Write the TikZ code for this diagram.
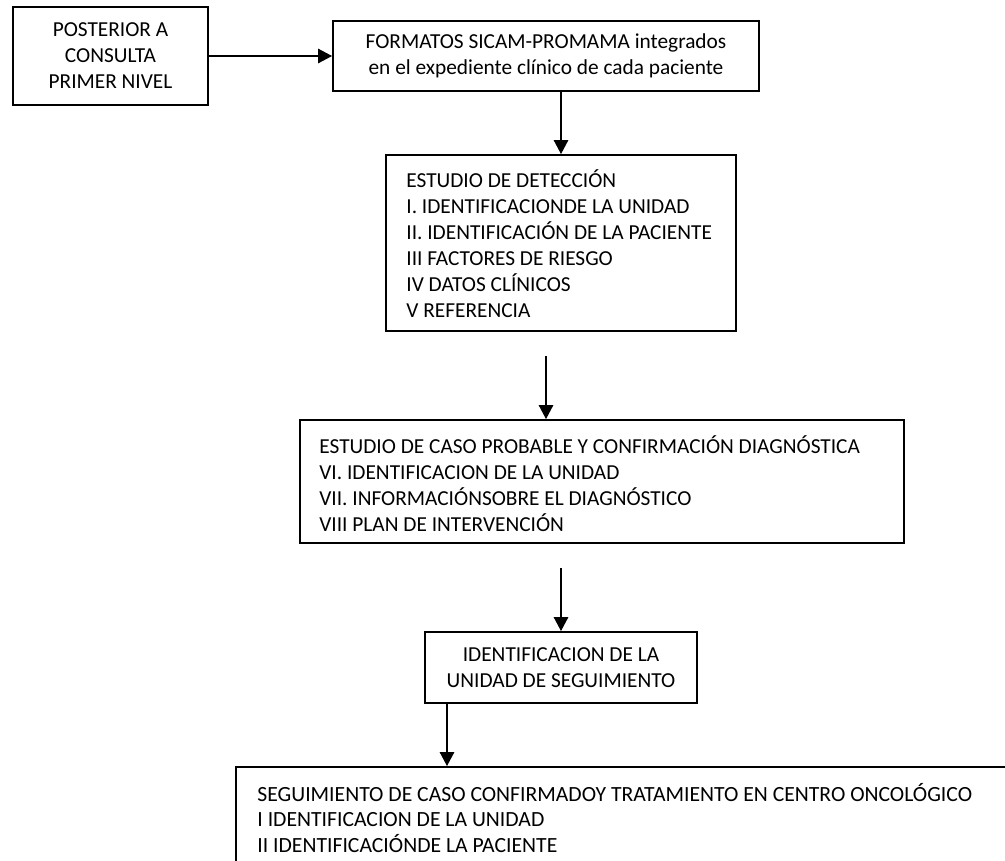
\documentclass[tikz,border=0pt]{standalone}
\usepackage{fontspec}
\setmainfont{Carlito}
\usetikzlibrary{arrows.meta}
\def\U{0.5155pt}
\tikzset{
  box/.style={draw, line width=1pt, rectangle, inner sep=0pt},
  arr/.style={line width=0.55pt, -{Triangle[length=7.2pt,width=7.5pt]}},
  lines/.style={align=left, inner sep=0pt, font=\fontsize{11pt}{13.4pt}\selectfont},
  ctext/.style={align=center, font=\fontsize{11pt}{13.4pt}\selectfont}
}
\begin{document}
\begin{tikzpicture}[x=\U, y=-\U]
\useasboundingbox (0,0) rectangle (1005,860);
\clip (0,0) rectangle (1005,860);

\node[box, ctext, minimum width=195*\U, minimum height=98*\U] (b1) at (110.5,56)
  {POSTERIOR A\\CONSULTA\\PRIMER NIVEL};
\node[box, ctext, minimum width=426*\U, minimum height=70*\U] (b2) at (546,56)
  {FORMATOS SICAM-PROMAMA integrados\\en el expediente clínico de cada paciente};

\node[box, minimum width=350*\U, minimum height=176*\U] (b3) at (561,243) {};
\node[lines, anchor=west] (t3) at (406,244)
  {ESTUDIO DE DETECCIÓN\\
   I. IDENTIFICACIONDE LA UNIDAD\\
   II. IDENTIFICACIÓN DE LA PACIENTE\\
   III FACTORES DE RIESGO\\
   IV DATOS CLÍNICOS\\
   V REFERENCIA};

\node[box, minimum width=604*\U, minimum height=123*\U] (b4) at (602,481.5) {};
\node[lines, anchor=west] (t4) at (319,484)
  {ESTUDIO DE CASO PROBABLE Y CONFIRMACIÓN DIAGNÓSTICA\\
   VI. IDENTIFICACION DE LA UNIDAD\\
   VII. INFORMACIÓNSOBRE EL DIAGNÓSTICO\\
   VIII PLAN DE INTERVENCIÓN};

\node[box, ctext, minimum width=272*\U, minimum height=71*\U] (b5) at (561,667.5)
  {IDENTIFICACION DE LA\\UNIDAD DE SEGUIMIENTO};

\node[box, anchor=north west, minimum width=1000*\U, minimum height=160*\U] (b6) at (235,766) {};
\node[lines, anchor=west, font=\fontsize{11.17pt}{13.4pt}\selectfont] (t6) at (257,818)
  {SEGUIMIENTO DE CASO CONFIRMADOY TRATAMIENTO EN CENTRO ONCOLÓGICO\\
   I IDENTIFICACION DE LA UNIDAD\\
   II IDENTIFICACIÓNDE LA PACIENTE};

\coordinate (c3) at (546,356);
\coordinate (c4) at (561,568);
\coordinate (c5) at (447,703);

\draw[arr] (b1) -- (b2);
\draw[arr] (b3.north |- b2.south) -- (b3.north);
\draw[arr] (c3) -- (c3 |- b4.north);
\draw[arr] (c4) -- (b5.north);
\draw[arr] (c5 |- b5.south) -- (c5 |- b6.north);
\end{tikzpicture}
\end{document}
